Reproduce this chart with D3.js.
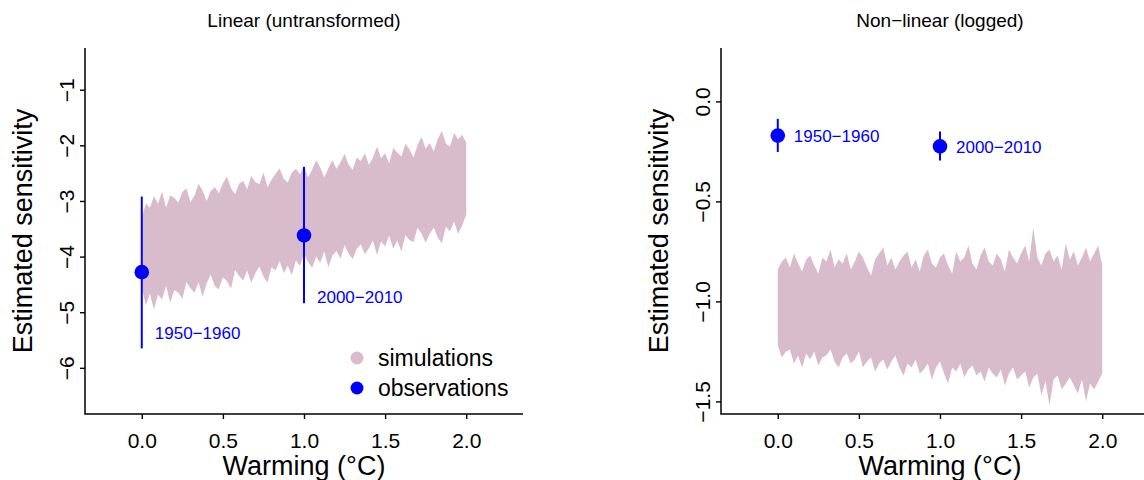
<!DOCTYPE html>
<html>
<head>
<meta charset="utf-8">
<script src="https://cdn.jsdelivr.net/npm/d3@7"></script>
<style>
  body { margin: 0; background: #fff; }
  svg { font-family: "Liberation Sans", Arial, sans-serif; }
</style>
</head>
<body>
<div id="chart"></div>
<script>

// simulation envelope, sampled along warming (°C)
var simX = [0, 0.025, 0.05, 0.075, 0.1, 0.125, 0.15, 0.175, 0.2, 0.225, 0.25, 0.275, 0.3, 0.325, 0.35, 0.375,
  0.4, 0.425, 0.45, 0.475, 0.5, 0.525, 0.55, 0.575, 0.6, 0.625, 0.65, 0.675, 0.7, 0.725, 0.75, 0.775,
  0.8, 0.825, 0.85, 0.875, 0.9, 0.925, 0.95, 0.975, 1, 1.025, 1.05, 1.075, 1.1, 1.125, 1.15, 1.175,
  1.2, 1.225, 1.25, 1.275, 1.3, 1.325, 1.35, 1.375, 1.4, 1.425, 1.45, 1.475, 1.5, 1.525, 1.55, 1.575,
  1.6, 1.625, 1.65, 1.675, 1.7, 1.725, 1.75, 1.775, 1.8, 1.825, 1.85, 1.875, 1.9, 1.925, 1.95, 1.975, 2];

var linUpper = [-3.30, -3.04, -3.12, -2.91, -3.05, -2.83, -3.12, -2.90, -2.94, -3.03, -2.84, -2.77, -3.02, -2.90, -2.69, -2.81,
  -3.00, -2.82, -2.75, -2.86, -2.68, -2.56, -2.77, -2.88, -2.69, -2.64, -2.79, -2.55, -2.66, -2.70, -2.49, -2.75,
  -2.62, -2.51, -2.41, -2.60, -2.67, -2.49, -2.42, -2.52, -2.35, -2.58, -2.44, -2.27, -2.40, -2.58, -2.41, -2.27,
  -2.42, -2.31, -2.15, -2.35, -2.44, -2.22, -2.28, -2.14, -2.35, -2.22, -2.02, -2.23, -2.14, -2.32, -2.05, -2.13,
  -2.20, -1.97, -2.07, -2.22, -1.99, -1.85, -2.06, -1.96, -2.11, -1.88, -1.74, -1.97, -2.02, -1.78, -1.89, -1.81, -1.95];
var linLower = [-4.55, -4.88, -4.67, -4.95, -4.68, -4.77, -4.53, -4.83, -4.60, -4.65, -4.76, -4.46, -4.57, -4.65, -4.46, -4.72,
  -4.48, -4.32, -4.53, -4.59, -4.37, -4.44, -4.58, -4.24, -4.35, -4.43, -4.25, -4.47, -4.30, -4.18, -4.36, -4.47,
  -4.19, -4.25, -4.08, -4.30, -4.16, -4.33, -4.07, -4.17, -3.94, -4.10, -4.20, -4.00, -4.11, -3.91, -4.19, -3.98,
  -3.90, -4.04, -3.79, -3.95, -4.05, -3.86, -3.78, -3.96, -3.85, -3.71, -3.97, -3.73, -3.82, -3.62, -3.86, -3.71,
  -3.91, -3.61, -3.70, -3.74, -3.48, -3.59, -3.75, -3.59, -3.48, -3.66, -3.76, -3.46, -3.55, -3.37, -3.59, -3.44, -3.25];

var logUpper = [-0.84, -0.80, -0.78, -0.83, -0.76, -0.81, -0.85, -0.79, -0.77, -0.82, -0.86, -0.78, -0.80, -0.74, -0.83, -0.79,
  -0.81, -0.76, -0.84, -0.80, -0.75, -0.78, -0.83, -0.87, -0.79, -0.76, -0.73, -0.82, -0.78, -0.84, -0.80, -0.77,
  -0.75, -0.83, -0.79, -0.85, -0.77, -0.74, -0.81, -0.83, -0.78, -0.76, -0.82, -0.86, -0.75, -0.80, -0.78, -0.72,
  -0.81, -0.84, -0.77, -0.73, -0.80, -0.82, -0.76, -0.79, -0.85, -0.74, -0.78, -0.81, -0.76, -0.72, -0.80, -0.63,
  -0.78, -0.82, -0.76, -0.74, -0.80, -0.77, -0.84, -0.71, -0.79, -0.75, -0.82, -0.78, -0.73, -0.80, -0.76, -0.72, -0.82];
var logLower = [-1.22, -1.28, -1.25, -1.24, -1.31, -1.27, -1.33, -1.26, -1.29, -1.25, -1.32, -1.28, -1.27, -1.24, -1.30, -1.33,
  -1.28, -1.26, -1.31, -1.29, -1.25, -1.33, -1.30, -1.28, -1.35, -1.31, -1.29, -1.34, -1.30, -1.27, -1.33, -1.37,
  -1.31, -1.33, -1.29, -1.36, -1.34, -1.31, -1.39, -1.33, -1.30, -1.36, -1.41, -1.33, -1.35, -1.31, -1.38, -1.34,
  -1.32, -1.37, -1.35, -1.40, -1.33, -1.36, -1.38, -1.34, -1.42, -1.36, -1.33, -1.39, -1.37, -1.35, -1.43, -1.38,
  -1.36, -1.47, -1.40, -1.52, -1.39, -1.37, -1.44, -1.41, -1.38, -1.42, -1.46, -1.39, -1.50, -1.41, -1.44, -1.40, -1.36];

// observations
var obsPeriods = ["1950\u22121960", "2000\u22122010"];
var obsX = [0, 1];
var linObs = [-4.28, -3.62];
var linObsLo = [-5.65, -4.84];
var linObsHi = [-2.92, -2.39];
var linLabelY = [-5.37, -4.72];
var logObs = [-0.171, -0.225];
var logObsLo = [-0.253, -0.295];
var logObsHi = [-0.087, -0.150];

// axes
var xTicks = [0, 0.5, 1, 1.5, 2];
var linTicks = [-6, -5, -4, -3, -2, -1];
var logTicks = [-1.5, -1, -0.5, 0];
var legendLabels = ["simulations", "observations"];

var simColor = "#d9bccb";
var obsColor = "#0000ff";

var W = 1144, H = 480;
var svg = d3.select("#chart").append("svg")
    .attr("width", W)
    .attr("height", H);

function drawPanel(p) {
  var x = d3.scaleLinear().domain([-0.35, 2.35]).range([p.left, p.left + 438]);
  var y = d3.scaleLinear().domain(p.yDomain).range([414, 48]);

  var g = svg.append("g");

  // simulation band
  var band = simX.map(function(d, i) {
    return {x: d, lo: p.lower[i], hi: p.upper[i]};
  });
  g.append("path")
      .datum(band)
      .attr("fill", simColor)
      .attr("d", d3.area()
        .x(function(d) { return x(d.x); })
        .y0(function(d) { return y(d.lo); })
        .y1(function(d) { return y(d.hi); }));

  // error bars + points
  var obs = obsX.map(function(d, i) {
    return {x: d, v: p.obs[i], lo: p.lo[i], hi: p.hi[i], lab: obsPeriods[i], ly: p.labelY ? p.labelY[i] : p.obs[i]};
  });
  g.selectAll(".bar")
      .data(obs)
    .enter().append("line")
      .attr("x1", function(d) { return x(d.x); })
      .attr("x2", function(d) { return x(d.x); })
      .attr("y1", function(d) { return y(d.lo); })
      .attr("y2", function(d) { return y(d.hi); })
      .attr("stroke", obsColor)
      .attr("stroke-width", 2);
  g.selectAll(".pt")
      .data(obs)
    .enter().append("circle")
      .attr("cx", function(d) { return x(d.x); })
      .attr("cy", function(d) { return y(d.v); })
      .attr("r", 7.3)
      .attr("fill", obsColor);
  g.selectAll(".lab")
      .data(obs)
    .enter().append("text")
      .attr("x", function(d) { return x(d.x) + p.labelDx; })
      .attr("y", function(d) { return y(d.ly); })
      .attr("dy", "0.36em")
      .attr("font-size", "17px")
      .attr("fill", obsColor)
      .text(function(d) { return d.lab; });

  // axes
  var xAxis = g.append("g")
      .attr("transform", "translate(0,414)")
      .call(d3.axisBottom(x).tickValues(xTicks).tickSize(5).tickFormat(d3.format(".1f")));
  xAxis.select(".domain").remove();
  xAxis.selectAll("line").attr("stroke-width", 1.4);
  xAxis.selectAll("text")
      .attr("font-size", "21px")
      .attr("fill", "#000")
      .attr("y", 33.5)
      .attr("dy", 0);

  var yAxis = g.append("g")
      .attr("transform", "translate(" + p.left + ",0)")
      .call(d3.axisLeft(y).tickValues(p.yTicks).tickSize(5).tickFormat(d3.format(p.yFmt)));
  yAxis.select(".domain").remove();
  yAxis.selectAll("line").attr("stroke-width", 1.4);
  yAxis.selectAll("text")
      .attr("font-size", "21px")
      .attr("fill", "#000")
      .attr("text-anchor", "middle")
      .attr("transform", "rotate(-90)")
      .attr("x", 0)
      .attr("y", -11.5)
      .attr("dy", 0);

  // L-shaped box
  g.append("path")
      .attr("d", "M" + p.left + ",48V414H" + (p.left + 438))
      .attr("fill", "none")
      .attr("stroke", "#000")
      .attr("stroke-width", 1.5);

  // titles
  g.append("text")
      .attr("x", p.left + 219)
      .attr("y", 27)
      .attr("text-anchor", "middle")
      .attr("font-size", "19px")
      .text(p.title);

  g.append("text")
      .attr("x", p.left + 219)
      .attr("y", 475)
      .attr("text-anchor", "middle")
      .attr("font-size", "27px")
      .text("Warming (\u00B0C)");

  g.append("text")
      .attr("transform", "translate(" + (p.left - 53) + ",231) rotate(-90)")
      .attr("text-anchor", "middle")
      .attr("font-size", "27px")
      .text("Estimated sensitivity");

  if (p.legend) {
    var leg = g.selectAll(".leg")
        .data(legendLabels)
      .enter().append("g")
        .attr("transform", function(d, i) { return "translate(" + 357 + "," + (358 + i * 30) + ")"; });
    leg.append("circle")
        .attr("r", 6.5)
        .attr("fill", function(d, i) { return i === 0 ? simColor : obsColor; });
    leg.append("text")
        .attr("x", 21)
        .attr("dy", "0.36em")
        .attr("font-size", "23px")
        .text(function(d) { return d; });
  }
}

drawPanel({
  left: 85,
  yDomain: [-6.83, -0.25],
  yTicks: linTicks,
  yFmt: "d",
  upper: linUpper,
  lower: linLower,
  obs: linObs, lo: linObsLo, hi: linObsHi,
  labelY: linLabelY,
  labelDx: 13,
  title: "Linear (untransformed)",
  legend: true
});

drawPanel({
  left: 721,
  yDomain: [-1.563, 0.267],
  yTicks: logTicks,
  yFmt: ".1f",
  upper: logUpper,
  lower: logLower,
  obs: logObs, lo: logObsLo, hi: logObsHi,
  labelDx: 16,
  title: "Non\u2212linear (logged)",
  legend: false
});

</script>
</body>
</html>
